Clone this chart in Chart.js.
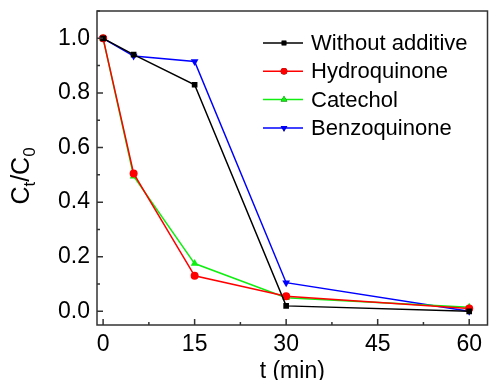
<!DOCTYPE html>
<html lang="en">
<head>
    <meta charset="UTF-8">
    <title>Ct/C0 vs time</title>
    <script src="https://cdn.jsdelivr.net/npm/chart.js"></script>
    <style>
        html, body { margin: 0; padding: 0; background: #fff; }
        #wrap { width: 492px; height: 380px; position: relative; }
    </style>
</head>
<body>
<div id="wrap"><canvas id="chart"></canvas></div>
<script>
    // data
    const times = [0, 5, 15, 30, 60];
    const withoutAdditive = [1.0, 0.94, 0.83, 0.02, 0.0];
    const hydroquinone = [1.0, 0.505, 0.13, 0.055, 0.01];
    const catechol = [1.0, 0.495, 0.175, 0.05, 0.015];
    const benzoquinone = [1.0, 0.935, 0.915, 0.105, 0.0];
    const xTicks = [0, 15, 30, 45, 60];
    const yTicks = [0, 0.2, 0.4, 0.6, 0.8, 1.0];

    const pts = arr => arr.map((v, i) => ({ x: times[i], y: v }));
    const FONT = 'Liberation Sans, Arial, sans-serif';

    function series(label, values, color, style, rot, r) {
        return {
            label: label, data: pts(values),
            borderColor: color, backgroundColor: color,
            borderWidth: 1.5, pointStyle: style, pointRotation: rot || 0,
            pointRadius: r, pointBorderWidth: 0, tension: 0
        };
    }

    // frame, inward ticks, y title with subscripts, legend inside plot
    const decor = {
        id: 'decor',
        afterDraw(chart) {
            const c = chart.ctx, a = chart.chartArea;
            const xs = chart.scales.x, ys = chart.scales.y;
            c.save();
            c.strokeStyle = '#333';
            c.lineWidth = 1.5;
            c.strokeRect(a.left, a.top, a.right - a.left, a.bottom - a.top);
            c.beginPath();
            for (let v = 0; v <= 60; v += 7.5) {
                const px = xs.getPixelForValue(v);
                const len = (v % 15 === 0) ? 6 : 3;
                c.moveTo(px, a.bottom); c.lineTo(px, a.bottom - len);
            }
            for (let k = 0; k <= 11; k++) {
                const py = ys.getPixelForValue(k / 10);
                const len = (k % 2 === 0) ? 6 : 3;
                c.moveTo(a.left, py); c.lineTo(a.left + len, py);
            }
            c.stroke();

            // y axis title C_t/C_0
            c.fillStyle = '#000';
            c.translate(29, 176);
            c.rotate(-Math.PI / 2);
            c.textBaseline = 'alphabetic';
            const parts = [['C', 25, 0], ['t', 17, 6], ['/C', 25, 0], ['0', 17, 6]];
            let w = 0;
            parts.forEach(p => { c.font = p[1] + 'px ' + FONT; w += c.measureText(p[0]).width; });
            let x = -w / 2;
            parts.forEach(p => {
                c.font = p[1] + 'px ' + FONT;
                c.fillText(p[0], x, p[2]);
                x += c.measureText(p[0]).width;
            });
            c.setTransform(1, 0, 0, 1, 0, 0);

            // legend
            const lx = 263, ly0 = 43, dy = 28.3;
            chart.data.datasets.forEach((ds, i) => {
                const y = ly0 + i * dy;
                c.strokeStyle = ds.borderColor;
                c.lineWidth = 1.5;
                c.beginPath(); c.moveTo(lx, y); c.lineTo(lx + 40, y); c.stroke();
                Chart.helpers.drawPoint(c, {
                    pointStyle: ds.pointStyle, rotation: ds.pointRotation,
                    radius: ds.pointRadius - 0.7, borderWidth: 0
                }, lx + 21, y);
                c.fillStyle = ds.borderColor;
                c.fill();
                c.fillStyle = '#000';
                c.font = '22px ' + FONT;
                c.textBaseline = 'middle';
                c.textAlign = 'left';
                c.fillText(ds.label, lx + 48, y + 1);
            });
            c.restore();
        }
    };

    new Chart(document.getElementById('chart'), {
        type: 'line',
        data: {
            datasets: [
                series('Without additive', withoutAdditive, '#000000', 'rect', 0, 4),
                series('Hydroquinone', hydroquinone, '#ff0000', 'circle', 0, 4),
                series('Catechol', catechol, '#11ee11', 'triangle', 0, 4.5),
                series('Benzoquinone', benzoquinone, '#0000ff', 'triangle', 180, 4.5)
            ]
        },
        options: {
            responsive: true,
            maintainAspectRatio: false,
            animation: false,
            layout: { padding: { top: 11, right: 1, left: 0, bottom: 0 } },
            plugins: { legend: { display: false }, tooltip: { enabled: false } },
            scales: {
                x: {
                    type: 'linear', min: -1, max: 63,
                    afterBuildTicks: s => { s.ticks = xTicks.map(v => ({ value: v })); },
                    afterFit: s => { s.height = 55; s.paddingLeft = 0; s.paddingRight = 0; },
                    grid: { display: false, drawTicks: false },
                    border: { display: false },
                    ticks: { color: '#000', font: { family: FONT, size: 23 }, padding: 6, maxRotation: 0 },
                    title: { display: true, text: 't (min)', color: '#000', font: { family: FONT, size: 23 },
                        padding: { top: 0, bottom: -5 } }
                },
                y: {
                    type: 'linear', min: -0.05, max: 1.1,
                    afterBuildTicks: s => { s.ticks = yTicks.map(v => ({ value: v })); },
                    afterFit: s => { s.width = 97; s.paddingTop = 0; s.paddingBottom = 0; },
                    grid: { display: false, drawTicks: false },
                    border: { display: false },
                    ticks: { color: '#000', font: { family: FONT, size: 23 }, padding: 7,
                        callback: v => v.toFixed(1) }
                }
            }
        },
        plugins: [decor]
    });
</script>
</body>
</html>
